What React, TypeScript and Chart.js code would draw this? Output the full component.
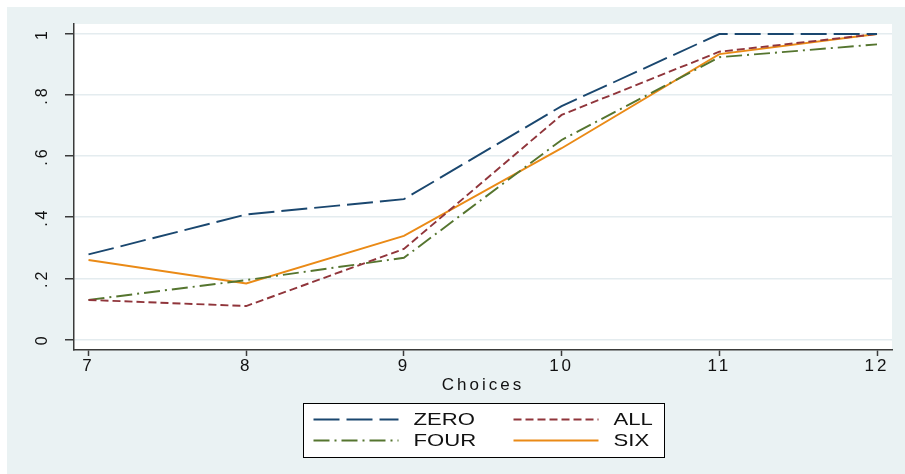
import React, { useEffect, useRef } from "react";
import { Chart, registerables } from "chart.js";

Chart.register(...registerables);

// ---- data ----
const choices = [7, 8, 9, 10, 11, 12];
const zeroValues = [0.278, 0.409, 0.459, 0.764, 1.0, 1.0];
const allValues = [0.129, 0.109, 0.296, 0.735, 0.942, 1.0];
const fourValues = [0.129, 0.194, 0.267, 0.653, 0.924, 0.966];
const sixValues = [0.26, 0.183, 0.339, 0.626, 0.934, 1.0];
const seriesNames = ["ZERO", "ALL", "FOUR", "SIX"];
const xTickValues = [7, 8, 9, 10, 11, 12];
const xTickLabels = ["7", "8", "9", "10", "11", "12"];
const yTickValues = [0, 0.2, 0.4, 0.6, 0.8, 1];
const yTickLabels = ["0", ".2", ".4", ".6", ".8", "1"];
const xTitle = "Choices";

// ---- styles ----
const FONT = "'Liberation Sans', Arial, Helvetica, sans-serif";
const PAGE_BG = "#eaf2f3";
const GRID = "#e4ecef";
const AXIS = "#3a3a3a";
const TEXT = "#111111";
const seriesStyles = [
  { color: "#1a476f", dash: [26, 7] },
  { color: "#90353b", dash: [8, 4] },
  { color: "#55752f", dash: [16, 5, 2, 5] },
  { color: "#ea8a16", dash: [] as number[] },
];
const seriesValues = [zeroValues, allValues, fourValues, sixValues];

const backgroundPlugin = {
  id: "stataBackground",
  beforeDraw(chart: any) {
    const { ctx, chartArea, width, height } = chart;
    ctx.save();
    ctx.fillStyle = PAGE_BG;
    ctx.fillRect(0, 0, width, height);
    ctx.fillStyle = "#ffffff";
    ctx.fillRect(chartArea.left, chartArea.top, chartArea.right - chartArea.left, chartArea.bottom - chartArea.top);
    ctx.restore();
    try {
      ctx.letterSpacing = "3px";
    } catch (e) {}
  },
};

const legendPlugin = {
  id: "stataLegend",
  afterDraw(chart: any) {
    const { ctx, chartArea } = chart;
    const w = 361;
    const h = 54;
    const cx = (chartArea.left + chartArea.right) / 2;
    const left = Math.round(cx - w / 2) + 0.5;
    const top = Math.round(chartArea.bottom + 53) + 0.5;
    ctx.save();
    try {
      ctx.letterSpacing = "0px";
    } catch (e) {}
    ctx.fillStyle = "#ffffff";
    ctx.fillRect(left, top, w, h);
    ctx.strokeStyle = "#000000";
    ctx.lineWidth = 1;
    ctx.strokeRect(left, top, w, h);
    chart.data.datasets.forEach((ds: any, i: number) => {
      const col = i % 2;
      const row = Math.floor(i / 2);
      const x0 = left + 10 + col * 200;
      const y = top + 16 + row * 21;
      ctx.beginPath();
      ctx.setLineDash(ds.borderDash || []);
      ctx.strokeStyle = ds.borderColor;
      ctx.lineWidth = ds.borderWidth;
      ctx.moveTo(x0, y);
      ctx.lineTo(x0 + 85, y);
      ctx.stroke();
      ctx.setLineDash([]);
      ctx.save();
      ctx.translate(x0 + 100, y + 1);
      ctx.scale(1.3, 1);
      ctx.fillStyle = TEXT;
      ctx.font = `17px ${FONT}`;
      ctx.textAlign = "left";
      ctx.textBaseline = "middle";
      ctx.fillText(ds.label, 0, 0);
      ctx.restore();
    });
    ctx.restore();
  },
};

export default function App() {
  const canvasRef = useRef<HTMLCanvasElement | null>(null);

  useEffect(() => {
    if (!canvasRef.current) return;
    const datasets = seriesNames.map((name, i) => ({
      label: name,
      data: choices.map((x, j) => ({ x, y: seriesValues[i][j] })),
      borderColor: seriesStyles[i].color,
      backgroundColor: seriesStyles[i].color,
      borderDash: seriesStyles[i].dash,
      borderWidth: 1.9,
      pointRadius: 0,
      tension: 0,
      fill: false,
    }));

    const chart = new Chart(canvasRef.current, {
      type: "line",
      data: { datasets },
      plugins: [backgroundPlugin, legendPlugin],
      options: {
        animation: false,
        responsive: true,
        maintainAspectRatio: false,
        layout: { padding: { left: 0, top: 17, right: 13, bottom: 0 } },
        plugins: {
          legend: { display: false },
          tooltip: { enabled: false },
          title: { display: false },
        },
        scales: {
          x: {
            type: "linear",
            min: 6.908,
            max: 12.095,
            afterBuildTicks: (s: any) => {
              s.ticks = xTickValues.map((v) => ({ value: v }));
            },
            afterFit: (s: any) => {
              s.height = 124;
              s.paddingLeft = 0;
              s.paddingRight = 0;
            },
            grid: {
              drawOnChartArea: false,
              drawTicks: true,
              tickLength: 6,
              tickColor: AXIS,
              tickWidth: 1.5,
            },
            border: { display: true, color: AXIS, width: 1.5 },
            ticks: {
              font: { family: FONT, size: 17 },
              color: TEXT,
              padding: 0,
              autoSkip: false,
              maxRotation: 0,
              minRotation: 0,
              callback: (_v: any, i: number) => xTickLabels[i],
            },
            title: {
              display: true,
              text: xTitle,
              font: { family: FONT, size: 17 },
              color: TEXT,
              padding: { top: 0, bottom: 78 },
            },
          },
          y: {
            type: "linear",
            min: -0.035,
            max: 1.0328,
            afterBuildTicks: (s: any) => {
              s.ticks = yTickValues.map((v) => ({ value: v }));
            },
            afterFit: (s: any) => {
              s.width = 67;
              s.paddingTop = 0;
              s.paddingBottom = 0;
            },
            grid: {
              color: GRID,
              lineWidth: 1.5,
              drawTicks: true,
              tickLength: 9,
              tickColor: AXIS,
              tickWidth: 1.5,
            },
            border: { display: true, color: AXIS, width: 1.5 },
            ticks: {
              font: { family: FONT, size: 16 },
              color: TEXT,
              padding: 16,
              autoSkip: false,
              minRotation: 90,
              maxRotation: 90,
              crossAlign: "center",
              callback: (_v: any, i: number) => yTickLabels[i],
            },
          },
        },
      } as any,
    });
    return () => chart.destroy();
  }, []);

  return (
    <div
      style={{
        position: "fixed",
        left: 0,
        top: 0,
        width: 905,
        height: 474,
        background: "#ffffff",
        overflow: "hidden",
      }}
    >
      <div style={{ position: "absolute", left: 7, top: 7, width: 898, height: 467 }}>
        <canvas ref={canvasRef} />
      </div>
    </div>
  );
}
